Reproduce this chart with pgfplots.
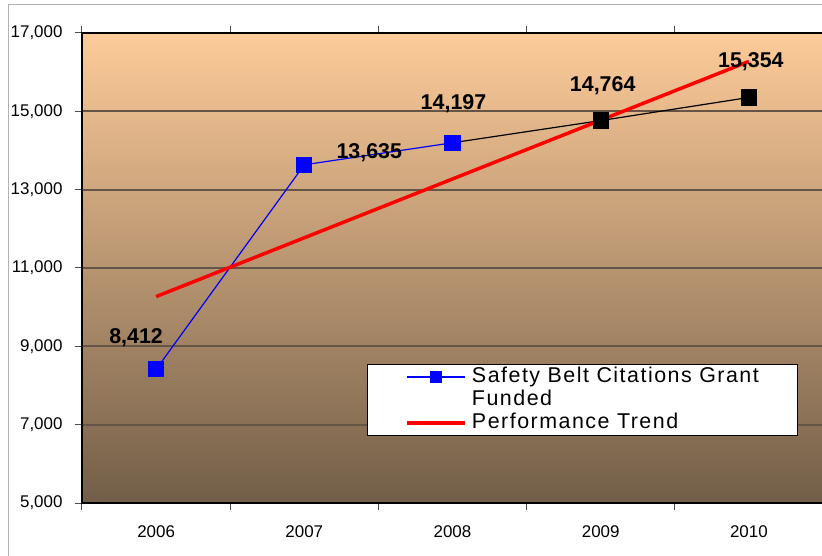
\documentclass[border=0pt]{standalone}
\usepackage{pgfplots}
\pgfplotsset{compat=1.18}
\usepackage{pgfplotstable}
\usepackage{fontspec}
\setmainfont{Liberation Sans}
\definecolor{bgtop}{RGB}{253,203,153}
\definecolor{bgmid}{RGB}{196,157,118}
\definecolor{bgbot}{RGB}{114,94,72}
\definecolor{gridc}{RGB}{100,85,70}

\pgfplotstableread{
x y dx dy
0 8412 -20 32
1 13635 65 12
2 14197 1 39
3 14764 2 35
4 15354 2 36
}\labeltable

\begin{document}
\begin{tikzpicture}
\path[use as bounding box] (-82bp,-53bp) rectangle (740bp,503bp);
\begin{axis}[
  scale only axis, width=741bp, height=470bp,
  at={(0,0)}, anchor=south west,
  xmin=-0.5, xmax=4.5, ymin=5000, ymax=17000,
  xtick={-0.5,0.5,1.5,2.5,3.5},
  xticklabels={2006,2007,2008,2009,2010},
  xticklabel style={xshift=74.1bp, yshift=-12bp, font=\fontsize{17}{17}\selectfont},
  ytick={5000,7000,...,17000},
  yticklabel style={xshift=-9bp, font=\fontsize{17}{17}\selectfont},
  scaled y ticks=false,
  /pgf/number format/.cd, fixed, 1000 sep={,}, assume math mode=true,
  /pgfplots/.cd,
  ymajorgrids,
  major grid style={draw=gridc, line width=2bp},
  tick align=outside,
  major tick length=7bp,
  tick style={black!70, line width=1bp},
  axis line style={black, line width=1.5bp},
  axis background/.style={shade, top color=bgtop, middle color=bgmid, bottom color=bgbot},
  legend image code/.code={\draw[mark repeat=2,mark phase=2,mark size=5.5bp] plot coordinates {(0bp,0bp)(29bp,0bp)(58bp,0bp)};},
  legend cell align=left,
  legend style={at={(rel axis cs:0.3846,0.2957)}, anchor=north west,
    draw=black, line width=1bp, fill=white,
    font=\fontsize{21.5}{21.5}\selectfont\addfontfeature{LetterSpace=7},
    nodes={inner sep=1bp, text height=15bp, text depth=4bp},
    row sep=2bp, inner xsep=38bp, inner ysep=2bp,
    /tikz/every odd column/.append style={column sep=4bp}},
]
\addplot[black, line width=1.2bp, mark=square*, mark size=7.5bp, mark options={solid, fill=black}, forget plot]
  coordinates {(2,14197) (3,14764) (4,15354)};
\addplot[draw=blue, color=blue, line width=1.2bp, mark=square*, mark size=7.5bp, mark options={solid, draw=blue, fill=blue}]
  coordinates {(0,8412) (1,13635) (2,14197)};
\addlegendentry{Safety Belt Citations Grant}
\addlegendimage{empty legend}
\addlegendentry{Funded}
\addplot[red, line width=3.5bp] coordinates {(0,10270) (4,16275)};
\addlegendentry{Performance Trend}
\addplot[draw=none, mark=none, forget plot,
  visualization depends on={\thisrow{dx} \as \dx},
  visualization depends on={\thisrow{dy} \as \dy},
  nodes near coords,
  every node near coord/.append style={anchor=center, xshift=\dx bp, yshift=\dy bp,
    font=\fontsize{21.5}{21.5}\selectfont\bfseries, text=black,
    /pgf/number format/fixed, /pgf/number format/1000 sep={,}, /pgf/number format/assume math mode=true}]
  table[x=x, y=y] {\labeltable};
\end{axis}
\draw[gray!60, line width=1bp] (-73bp,-60bp) -- (-73bp,498bp) -- (760bp,498bp);
\end{tikzpicture}
\end{document}
